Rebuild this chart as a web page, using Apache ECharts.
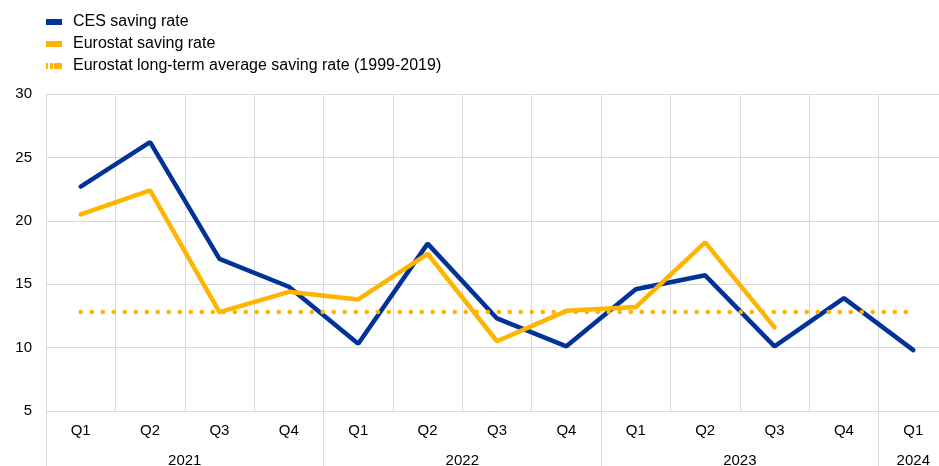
<!DOCTYPE html>
<html>
<head>
<meta charset="utf-8">
<script src="https://cdn.jsdelivr.net/npm/echarts@6/dist/echarts.min.js"></script>
<style>
  html, body { margin: 0; padding: 0; background: #fff; }
  #chart { width: 939px; height: 466px; }
</style>
</head>
<body>
<div id="chart"></div>
<script>
// Quarterly household saving rates, 2021 Q1 – 2024 Q1 (%)
const quarters = ['Q1', 'Q2', 'Q3', 'Q4', 'Q1', 'Q2', 'Q3', 'Q4', 'Q1', 'Q2', 'Q3', 'Q4', 'Q1'];
const yearLabels = { 2: '2021', 6: '2022', 10: '2023', 12.5: '2024' };
const yearStartIndex = [0, 4, 8, 12];

const cesSaving = [22.7, 26.2, 17.0, 14.8, 10.3, 18.2, 12.3, 10.1, 14.6, 15.7, 10.1, 13.9, 9.8];
const eurostatSaving = [20.5, 22.4, 12.8, 14.4, 13.8, 17.4, 10.5, 12.9, 13.2, 18.3, 11.6, null, null];
const longTermAverage = [12.8, 12.8, 12.8, 12.8, 12.8, 12.8, 12.8, 12.8, 12.8, 12.8, 12.8, 12.8, 12.8];

const yTicks = { min: 5, max: 30, step: 5 };

const BLUE = '#003299';
const YELLOW = '#ffb400';
const GRID = '#d9d9d9';
const FONT = '"Liberation Sans", Arial, sans-serif';

const chart = echarts.init(document.getElementById('chart'), null, { renderer: 'canvas' });

chart.setOption({
  animation: false,
  textStyle: { fontFamily: FONT },
  legend: {
    orient: 'vertical',
    left: 46,
    top: 13,
    padding: 0,
    itemWidth: 16,
    itemHeight: 6,
    itemGap: 4,
    textStyle: { fontFamily: FONT, fontSize: 16, color: '#000', padding: [0, 0, 0, 6], lineHeight: 18 },
    data: [
      { name: 'CES saving rate', icon: 'rect' },
      { name: 'Eurostat saving rate', icon: 'rect' },
      { name: 'Eurostat long-term average saving rate (1999-2019)',
        icon: 'path://M0,0h2v6h-2z M4,0h3v6h-3z M8,0h8v6h-8z' }
    ]
  },
  grid: { left: 46, width: 902, top: 94, bottom: 55, containLabel: false, outerBoundsMode: 'none' },
  xAxis: [
    {
      type: 'category',
      data: quarters,
      boundaryGap: true,
      axisLine: { show: true, lineStyle: { color: GRID, width: 1 } },
      axisTick: { show: false },
      axisLabel: { color: '#000', fontSize: 15, fontFamily: FONT, margin: 12, interval: 0 },
      splitLine: { show: true, lineStyle: { color: GRID, width: 1 } }
    },
    {
      type: 'category',
      data: quarters,
      boundaryGap: true,
      position: 'bottom',
      axisLine: { show: false },
      axisTick: {
        show: true,
        length: 56,
        interval: function (index) { return yearStartIndex.indexOf(index) >= 0; },
        lineStyle: { color: GRID, width: 1 }
      },
      axisLabel: { show: false },
      splitLine: { show: false }
    },
    {
      type: 'value',
      min: 0,
      max: 13,
      interval: 0.5,
      position: 'bottom',
      axisLine: { show: false },
      axisTick: { show: false },
      splitLine: { show: false },
      axisLabel: {
        color: '#000', fontSize: 15, fontFamily: FONT, margin: 42,
        showMinLabel: true, showMaxLabel: true,
        formatter: function (v) { return yearLabels[v] || ''; }
      }
    }
  ],
  yAxis: {
    type: 'value',
    min: yTicks.min,
    max: yTicks.max,
    interval: yTicks.step,
    axisLine: { show: true, lineStyle: { color: GRID, width: 1 } },
    axisTick: { show: false },
    axisLabel: { color: '#000', fontSize: 15, fontFamily: FONT, margin: 14 },
    splitLine: { show: true, lineStyle: { color: GRID, width: 1 } }
  },
  series: [
    {
      name: 'CES saving rate',
      type: 'line',
      xAxisIndex: 0,
      data: cesSaving,
      showSymbol: false,
      symbol: 'none',
      lineStyle: { color: BLUE, width: 4.5, cap: 'round' },
      itemStyle: { color: BLUE }
    },
    {
      name: 'Eurostat saving rate',
      type: 'line',
      xAxisIndex: 0,
      data: eurostatSaving,
      showSymbol: false,
      symbol: 'none',
      connectNulls: false,
      lineStyle: { color: YELLOW, width: 4.5, cap: 'round' },
      itemStyle: { color: YELLOW }
    },
    {
      name: 'Eurostat long-term average saving rate (1999-2019)',
      type: 'line',
      xAxisIndex: 0,
      data: longTermAverage,
      showSymbol: false,
      symbol: 'none',
      lineStyle: { color: YELLOW, width: 4.5, type: [0.1, 10.9], cap: 'round' },
      itemStyle: { color: YELLOW }
    }
  ]
});
</script>
</body>
</html>
